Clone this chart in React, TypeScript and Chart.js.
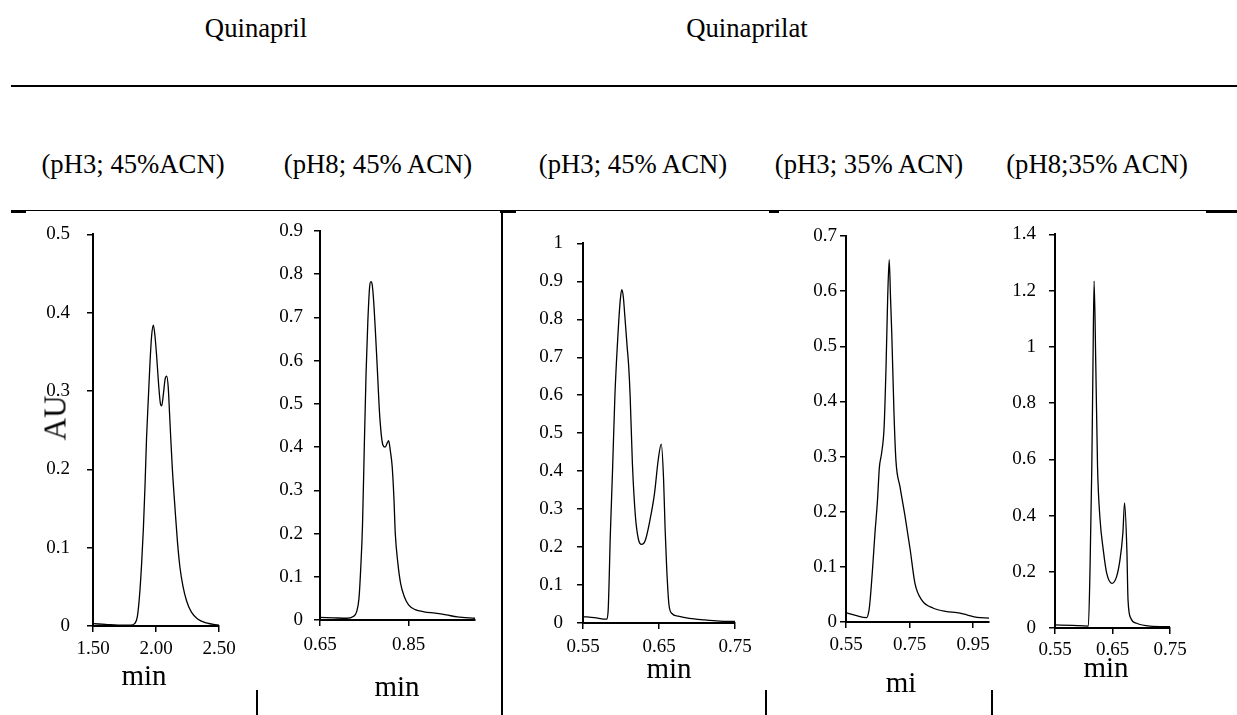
import React, { useEffect, useRef } from 'react';
import { Chart, registerables } from 'chart.js';

Chart.register(...registerables);

const FONT = "'Liberation Serif', 'Times New Roman', Times, serif";

// ---------- Panel 1: Quinapril (pH3; 45%ACN) ----------
const p1Time = [1.5, 1.6, 1.7, 1.8, 1.83, 1.852, 1.87, 1.886, 1.9, 1.913, 1.925, 1.939, 1.952, 1.965, 1.979, 1.992, 2.005, 2.02, 2.035, 2.045, 2.058, 2.072, 2.085, 2.097, 2.108, 2.117, 2.13, 2.151, 2.17, 2.19, 2.215, 2.243, 2.28, 2.33, 2.4, 2.5];
const p1AU = [0.003, 0.002, 0.001, 0.001, 0.003, 0.012, 0.04, 0.08, 0.125, 0.18, 0.24, 0.29, 0.335, 0.37, 0.384, 0.37, 0.345, 0.31, 0.284, 0.281, 0.295, 0.315, 0.319, 0.305, 0.27, 0.24, 0.2, 0.15, 0.108, 0.075, 0.05, 0.032, 0.018, 0.009, 0.004, 0.001];
const p1XTicks = [1.5, 2.0, 2.5];
const p1YTicks = [0, 0.1, 0.2, 0.3, 0.4, 0.5];

// ---------- Panel 2: Quinapril (pH8; 45% ACN) ----------
const p2Time = [0.65, 0.68, 0.71, 0.725, 0.733, 0.738, 0.742, 0.746, 0.75, 0.754, 0.758, 0.762, 0.765, 0.768, 0.771, 0.775, 0.779, 0.785, 0.792, 0.797, 0.802, 0.805, 0.809, 0.813, 0.817, 0.82, 0.826, 0.832, 0.84, 0.85, 0.865, 0.885, 0.91, 0.935, 0.96, 1.0];
const p2AU = [0.006, 0.005, 0.004, 0.008, 0.02, 0.05, 0.12, 0.22, 0.4, 0.57, 0.69, 0.77, 0.783, 0.775, 0.74, 0.67, 0.59, 0.47, 0.405, 0.4, 0.41, 0.415, 0.39, 0.355, 0.28, 0.2, 0.13, 0.085, 0.055, 0.035, 0.024, 0.019, 0.016, 0.012, 0.007, 0.004];
const p2XTicks = [0.65, 0.85];
const p2YTicks = [0, 0.1, 0.2, 0.3, 0.4, 0.5, 0.6, 0.7, 0.8, 0.9];

// ---------- Panel 3: Quinaprilat (pH3; 45% ACN) ----------
const p3Time = [0.55, 0.565, 0.581, 0.583, 0.586, 0.589, 0.592, 0.596, 0.599, 0.601, 0.603, 0.605, 0.608, 0.61, 0.612, 0.615, 0.619, 0.623, 0.627, 0.632, 0.638, 0.644, 0.649, 0.653, 0.656, 0.658, 0.66, 0.663, 0.667, 0.675, 0.69, 0.71, 0.73, 0.75];
const p3AU = [0.017, 0.014, 0.01, 0.03, 0.235, 0.41, 0.6, 0.76, 0.85, 0.878, 0.86, 0.81, 0.73, 0.68, 0.6, 0.42, 0.28, 0.22, 0.207, 0.218, 0.27, 0.34, 0.43, 0.471, 0.38, 0.25, 0.15, 0.05, 0.025, 0.018, 0.012, 0.008, 0.005, 0.004];
const p3XTicks = [0.55, 0.65, 0.75];
const p3YTicks = [0, 0.1, 0.2, 0.3, 0.4, 0.5, 0.6, 0.7, 0.8, 0.9, 1];

// ---------- Panel 4: Quinaprilat (pH3; 35% ACN) ----------
const p4Time = [0.55, 0.58, 0.615, 0.622, 0.626, 0.634, 0.641, 0.649, 0.655, 0.662, 0.67, 0.676, 0.681, 0.686, 0.69, 0.694, 0.701, 0.707, 0.72, 0.736, 0.752, 0.767, 0.788, 0.825, 0.867, 0.899, 0.93, 0.962, 1.0];
const p4AU = [0.017, 0.012, 0.008, 0.02, 0.04, 0.1, 0.16, 0.22, 0.28, 0.306, 0.354, 0.463, 0.584, 0.657, 0.59, 0.524, 0.379, 0.294, 0.245, 0.191, 0.131, 0.07, 0.04, 0.025, 0.019, 0.017, 0.013, 0.0085, 0.007];
const p4XTicks = [0.55, 0.75, 0.95];
const p4YTicks = [0, 0.1, 0.2, 0.3, 0.4, 0.5, 0.6, 0.7];

// ---------- Panel 5: Quinaprilat (pH8;35% ACN) ----------
const p5Time = [0.55, 0.58, 0.608, 0.611, 0.614, 0.616, 0.618, 0.621, 0.624, 0.628, 0.634, 0.64, 0.649, 0.657, 0.663, 0.668, 0.671, 0.675, 0.677, 0.682, 0.692, 0.715, 0.75];
const p5AU = [0.011, 0.009, 0.007, 0.218, 0.573, 0.929, 1.234, 0.929, 0.573, 0.396, 0.277, 0.194, 0.159, 0.182, 0.242, 0.336, 0.445, 0.277, 0.1, 0.034, 0.017, 0.007, 0.005];
const p5XTicks = [0.55, 0.65, 0.75];
const p5YTicks = [0, 0.2, 0.4, 0.6, 0.8, 1, 1.2, 1.4];

const headerTitles = ['Quinapril', 'Quinaprilat'];
const conditionLabels = ['(pH3; 45%ACN)', '(pH8; 45% ACN)', '(pH3; 45% ACN)', '(pH3; 35% ACN)', '(pH8;35% ACN)'];
const xAxisTitles = ['min', 'min', 'min', 'mi', 'min'];
const yAxisTitle = 'AU';

type PanelCfg = {
  time: number[];
  au: number[];
  xMin: number;
  xMax: number;
  yMax: number;
  xTicks: number[];
  yTicks: number[];
  left: number;
  top: number;
  right: number;
  bottom: number;
  yPad: number;
  xPad: number;
  titleX: number;
  titleBase: number;
};

const panels: PanelCfg[] = [
  { time: p1Time, au: p1AU, xMin: 1.5, xMax: 2.5, yMax: 0.5, xTicks: p1XTicks, yTicks: p1YTicks, left: 93, top: 230, right: 219, bottom: 626, yPad: 17, xPad: 6, titleX: 144, titleBase: 685 },
  { time: p2Time, au: p2AU, xMin: 0.65, xMax: 1.0, yMax: 0.9, xTicks: p2XTicks, yTicks: p2YTicks, left: 320, top: 231, right: 475, bottom: 620, yPad: 11, xPad: 8, titleX: 397, titleBase: 696 },
  { time: p3Time, au: p3AU, xMin: 0.55, xMax: 0.75, yMax: 1, xTicks: p3XTicks, yTicks: p3YTicks, left: 583, top: 242, right: 735, bottom: 623, yPad: 14, xPad: 7, titleX: 669, titleBase: 678 },
  { time: p4Time, au: p4AU, xMin: 0.55, xMax: 1.0, yMax: 0.7, xTicks: p4XTicks, yTicks: p4YTicks, left: 846, top: 236, right: 989, bottom: 622, yPad: 3, xPad: 6, titleX: 901, titleBase: 692 },
  { time: p5Time, au: p5AU, xMin: 0.55, xMax: 0.75, yMax: 1.4, xTicks: p5XTicks, yTicks: p5YTicks, left: 1055, top: 234, right: 1170, bottom: 628, yPad: 13, xPad: 5, titleX: 1106, titleBase: 677 },
];

const YW = 80;
const PT = 24;
const PR = 36;
const XH = 44;
const TICK_SIZE = 19;

function Panel({ cfg }: { cfg: PanelCfg }) {
  const ref = useRef<HTMLCanvasElement | null>(null);
  const w = YW + (cfg.right - cfg.left) + PR;
  const h = PT + (cfg.bottom - cfg.top) + XH;

  useEffect(() => {
    if (!ref.current) return;
    const chart = new Chart(ref.current, {
      type: 'line',
      data: {
        datasets: [
          {
            data: cfg.time.map((t, i) => ({ x: t, y: cfg.au[i] })),
            borderColor: '#000',
            borderWidth: 1.3,
            pointRadius: 0,
            cubicInterpolationMode: 'monotone',
            fill: false,
          },
        ],
      },
      options: {
        animation: false,
        responsive: false,
        maintainAspectRatio: false,
        events: [],
        layout: { padding: { top: PT, right: PR, left: 0, bottom: 0 } },
        plugins: { legend: { display: false }, tooltip: { enabled: false } },
        scales: {
          x: {
            type: 'linear',
            min: cfg.xMin,
            max: cfg.xMax,
            afterFit: (s: any) => {
              s.height = XH;
            },
            afterBuildTicks: (s: any) => {
              s.ticks = cfg.xTicks.map((v) => ({ value: v }));
            },
            grid: { display: true, drawOnChartArea: false, drawTicks: true, tickLength: 6, color: '#000', lineWidth: 1.5 },
            border: { display: true, color: '#000', width: 2 },
            ticks: {
              color: '#000',
              font: { family: FONT, size: TICK_SIZE },
              padding: cfg.xPad,
              maxRotation: 0,
              autoSkip: false,
              callback: (v: any) => Number(v).toFixed(2),
            },
          },
          y: {
            type: 'linear',
            min: 0,
            max: cfg.yMax,
            afterFit: (s: any) => {
              s.width = YW;
            },
            afterBuildTicks: (s: any) => {
              s.ticks = cfg.yTicks.map((v) => ({ value: v }));
            },
            grid: { display: true, drawOnChartArea: false, drawTicks: true, tickLength: 6, color: '#000', lineWidth: 1.5 },
            border: { display: true, color: '#000', width: 2 },
            ticks: {
              color: '#000',
              font: { family: FONT, size: TICK_SIZE },
              padding: cfg.yPad,
              autoSkip: false,
              callback: (v: any) => String(Number(Number(v).toFixed(2))),
            },
          },
        },
      },
    } as any);
    return () => chart.destroy();
  }, []);

  return (
    <canvas
      ref={ref}
      width={w}
      height={h}
      style={{ position: 'absolute', left: cfg.left - YW, top: cfg.top - PT, width: w, height: h }}
    />
  );
}

function Txt({ x, base, size, children }: { x: number; base: number; size: number; children: React.ReactNode }) {
  return (
    <div
      style={{
        position: 'absolute',
        left: x,
        top: base - 0.8375 * size,
        transform: 'translateX(-50%)',
        fontFamily: FONT,
        fontSize: size,
        lineHeight: 1,
        whiteSpace: 'nowrap',
        color: '#000',
      }}
    >
      {children}
    </div>
  );
}

function Bar({ x, y, w, h }: { x: number; y: number; w: number; h: number }) {
  return <div style={{ position: 'absolute', left: x, top: y, width: w, height: h, background: '#000' }} />;
}

const headerX = [256, 747];
const conditionX = [133, 378, 633, 869, 1097];

export default function App() {
  return (
    <div style={{ position: 'fixed', left: 0, top: 0, width: 1237, height: 715, background: '#fff', overflow: 'hidden' }}>
      {headerTitles.map((t, i) => (
        <Txt key={t} x={headerX[i]} base={37} size={26.7}>
          {t}
        </Txt>
      ))}
      {conditionLabels.map((t, i) => (
        <Txt key={i} x={conditionX[i]} base={173} size={26.7}>
          {t}
        </Txt>
      ))}
      <Bar x={11} y={85} w={1226} h={2} />
      <Bar x={11} y={210} w={1226} h={1} />
      <Bar x={11} y={210} w={15} h={3} />
      <Bar x={500} y={210} w={16} h={3} />
      <Bar x={769} y={210} w={10} h={3} />
      <Bar x={1206} y={210} w={31} h={3} />
      <Bar x={501} y={210} w={2} h={505} />
      <Bar x={256} y={690} w={2} h={25} />
      <Bar x={765} y={690} w={2} h={25} />
      <Bar x={991} y={690} w={2} h={25} />
      {panels.map((p, i) => (
        <Panel key={i} cfg={p} />
      ))}
      {panels.map((p, i) => (
        <Txt key={'t' + i} x={p.titleX} base={p.titleBase} size={29}>
          {xAxisTitles[i]}
        </Txt>
      ))}
      <div
        style={{
          position: 'absolute',
          left: 55,
          top: 418,
          transform: 'translate(-50%, -50%) rotate(-90deg)',
          fontFamily: FONT,
          fontSize: 31,
          lineHeight: 1,
          whiteSpace: 'nowrap',
          color: '#000',
        }}
      >
        {yAxisTitle}
      </div>
    </div>
  );
}
